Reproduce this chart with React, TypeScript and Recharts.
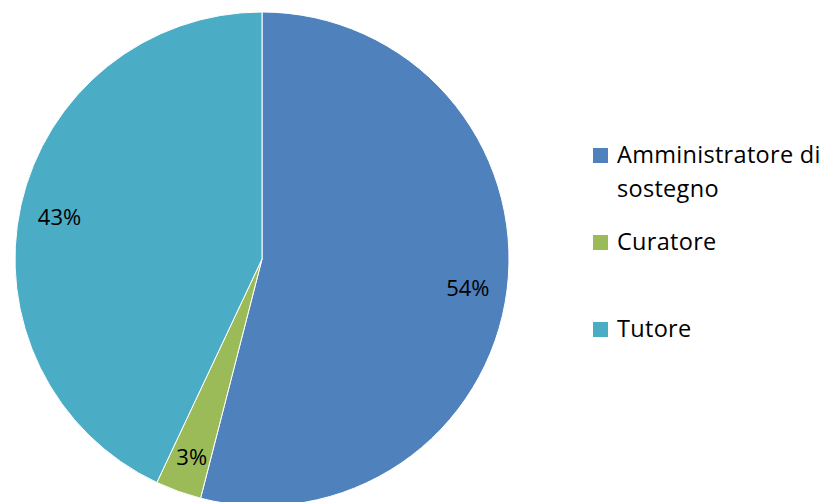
import { PieChart, Pie, Cell, Legend } from "recharts"

const categories = ["Amministratore di sostegno", "Curatore", "Tutore"]
const shares = [54, 3, 43]
const colors = ["#4F81BD", "#9BBB59", "#4BACC6"]

const chartData = categories.map((name, i) => ({ name, value: shares[i] }))

const RAD = Math.PI / 180
const FONT = "'Open Sans', 'Noto Sans', sans-serif"

const renderLabel = (props: any) => {
  const { cx, cy, midAngle, outerRadius, percent } = props
  const r = outerRadius * 0.84
  const x = cx + r * Math.cos(-midAngle * RAD)
  const y = cy + r * Math.sin(-midAngle * RAD) + 2
  return (
    <text x={x} y={y} fill="#000" fontSize={22} fontFamily={FONT} textAnchor="middle" dominantBaseline="central">
      {`${Math.round(percent * 100)}%`}
    </text>
  )
}

// legend rows: top offsets of each colour square
const legendTops = [0, 87, 174]

const LegendBox = () => (
  <div style={{ position: "relative", width: 240, height: 200, fontFamily: FONT, fontSize: 23.5, letterSpacing: 0.3, color: "#000" }}>
    {categories.map((name, i) => (
      <div key={name} style={{ position: "absolute", left: 0, top: legendTops[i], display: "flex", alignItems: "flex-start" }}>
        <span style={{ width: 15, height: 15, background: colors[i], marginTop: 1, marginRight: 9, flexShrink: 0 }} />
        <span style={{ width: 225, lineHeight: "34px", marginTop: -10 }}>{name}</span>
      </div>
    ))}
  </div>
)

export default function App() {
  return (
    <div style={{ position: "absolute", left: 0, top: 0, background: "#fff" }}>
      <PieChart width={837} height={502} margin={{ top: 0, right: 0, bottom: 0, left: 0 }}>
        <Pie
          data={chartData}
          dataKey="value"
          nameKey="name"
          cx={262}
          cy={259}
          outerRadius={247}
          startAngle={90}
          endAngle={-270}
          stroke="#fff"
          strokeWidth={1}
          label={renderLabel}
          labelLine={false}
          isAnimationActive={false}
        >
          {chartData.map((entry, i) => (
            <Cell key={entry.name} fill={colors[i]} />
          ))}
        </Pie>
        <Legend content={<LegendBox />} wrapperStyle={{ left: 593, top: 147, width: 240 }} />
      </PieChart>
    </div>
  )
}
